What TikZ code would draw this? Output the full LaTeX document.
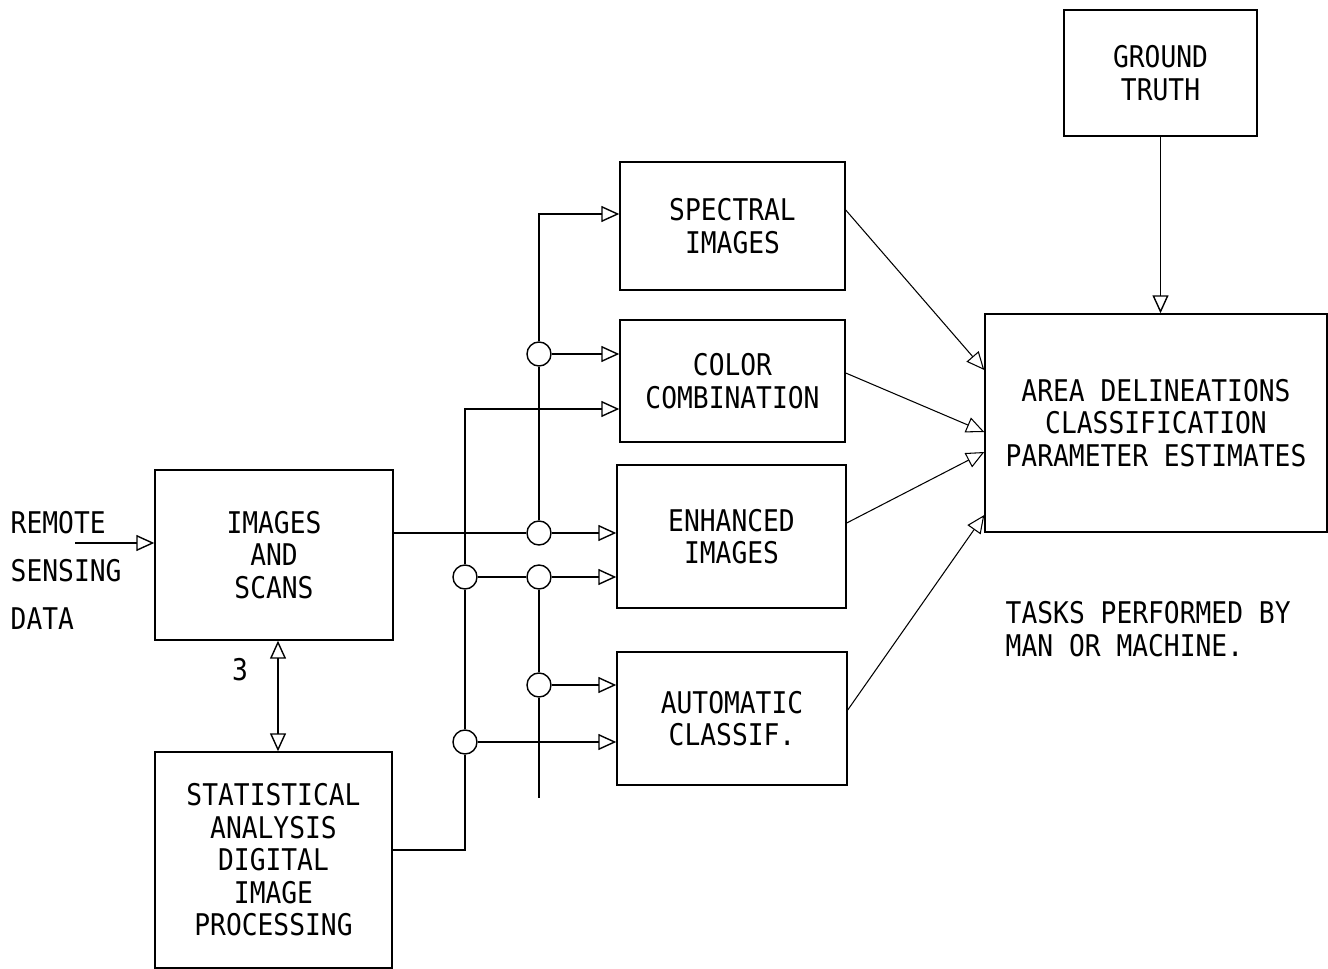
\documentclass[tikz,border=0pt]{standalone}
\usepackage{fontspec}
\setmainfont[FakeStretch=0.88]{DejaVu Sans Mono}
\usetikzlibrary{arrows.meta}

\begin{document}
\begin{tikzpicture}[>={Triangle[open,length=0.36cm,width=0.32cm]}, line width=0.8pt,
  font=\fontsize{17}{18.5}\selectfont,
  blk/.style={draw, align=center, inner sep=2pt},
  jn/.style={draw, circle, minimum size=0.48cm, inner sep=0pt},
  txt/.style={align=left, anchor=west, inner sep=0pt}]
  \useasboundingbox (0,0) rectangle (26.56,-19.38);

  \node[blk, minimum width=3.86cm, minimum height=2.52cm] (G) at (23.21,-1.46) {GROUND\\TRUTH};
  \node[blk, minimum width=6.84cm, minimum height=4.36cm] (A) at (23.12,-8.46)
    {AREA DELINEATIONS\\CLASSIFICATION\\PARAMETER ESTIMATES};
  \node[blk, minimum width=4.5cm, minimum height=2.56cm]  (S) at (14.65,-4.52)  {SPECTRAL\\IMAGES};
  \node[blk, minimum width=4.5cm, minimum height=2.44cm]  (C) at (14.65,-7.62)  {COLOR\\COMBINATION};
  \node[blk, minimum width=4.58cm, minimum height=2.86cm] (E) at (14.63,-10.73) {ENHANCED\\IMAGES};
  \node[blk, minimum width=4.6cm, minimum height=2.66cm]  (M) at (14.64,-14.37) {AUTOMATIC\\CLASSIF.};
  \node[blk, minimum width=4.76cm, minimum height=3.4cm]  (I) at (5.48,-11.1)   {IMAGES\\AND\\SCANS};
  \node[blk, minimum width=4.74cm, minimum height=4.32cm] (T) at (5.47,-17.2)
    {STATISTICAL\\ANALYSIS\\DIGITAL\\IMAGE\\PROCESSING};

  \node[txt] (R) at (0.2,-11.4) {REMOTE\\[8.8pt]SENSING\\[8.8pt]DATA};
  \node[txt] (K) at (20.1,-12.58) {TASKS PERFORMED BY\\MAN OR MACHINE.};
  \node (n3) at (4.8,-13.4) {3};

  % junctions
  \node[jn] (j1) at (10.78,-7.08)  {};
  \node[jn] (j2) at (10.78,-10.66) {};
  \node[jn] (j3) at (10.78,-11.54) {};
  \node[jn] (j4) at (10.78,-13.7)  {};
  \node[jn] (j5) at (9.3,-14.84)   {};
  \node[jn] (j6) at (9.3,-11.54)   {};
  \coordinate (t1) at (10.78,-4.28);
  \coordinate (t2) at (9.3,-8.18);
  \coordinate (t3) at (9.3,-17.0);
  \coordinate (t4) at (10.78,-15.96);
  \coordinate (rs) at (1.5,-10.86);

  \draw[->] (rs) -- (rs -| I.west);
  \draw[<->] ([xshift=0.08cm]I.south) -- ([xshift=0.08cm]I.south |- T.north);

  \draw (I.east |- j2) -- (j2);
  \draw[->] (j2) -- (j2 -| E.west);
  \draw (j2) -- (j1);
  \draw[->] (j1) -- (j1 -| C.west);
  \draw[->] (j1) |- (S.west |- t1);

  \draw (T.east |- t3) -| (j5);
  \draw[->] (j5) -- (j5 -| M.west);
  \draw (j5) -- (j6);
  \draw (j6) -- (j3);
  \draw[->] (j6) |- (C.west |- t2);
  \draw[->] (j3) -- (j3 -| E.west);
  \draw (j3) -- (j4);
  \draw[->] (j4) -- (j4 -| M.west);
  \draw (j4) -- (t4);

  \draw[->] (G.south) -- (G.south |- A.north);
  \draw[->, line width=0.6pt] ([yshift=0.32cm]S.east) -- ([yshift=1.06cm]A.west);
  \draw[->, line width=0.6pt] ([yshift=0.16cm]C.east) -- ([yshift=-0.18cm]A.west);
  \draw[->, line width=0.6pt] ([yshift=0.27cm]E.east) -- ([yshift=-0.58cm]A.west);
  \draw[->, line width=0.6pt] ([yshift=0.17cm]M.east) -- ([yshift=-1.84cm]A.west);
\end{tikzpicture}
\end{document}
